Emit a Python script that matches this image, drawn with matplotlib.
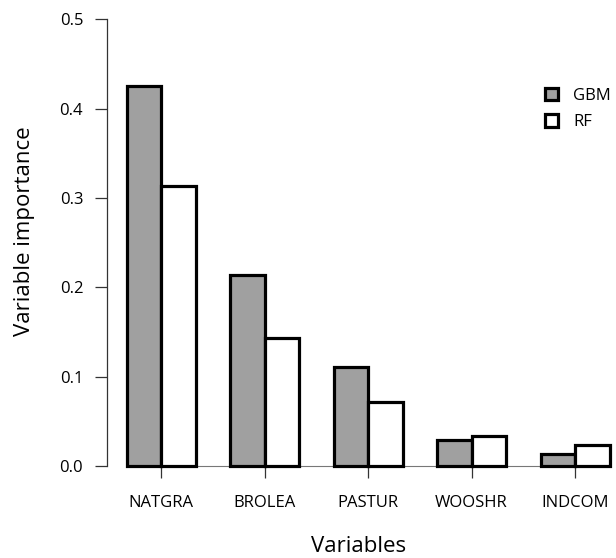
import matplotlib
matplotlib.use("Agg")
import matplotlib.pyplot as plt
from matplotlib.patches import Patch
import numpy as np

categories = ["NATGRA", "BROLEA", "PASTUR", "WOOSHR", "INDCOM"]
gbm = [0.425, 0.214, 0.111, 0.029, 0.014]
rf = [0.313, 0.143, 0.072, 0.034, 0.023]
yticks = [0.0, 0.1, 0.2, 0.3, 0.4, 0.5]
ytick_labels = ["0.0", "0.1", "0.2", "0.3", "0.4", "0.5"]

plt.rcParams['font.family'] = ['Open Sans', 'DejaVu Sans']

W, H = 616, 558
fig = plt.figure(figsize=(W / 100, H / 100), dpi=100)

# axes placement in pixels
x0_px, x1_px = 107.3, 616
y_bot_px, y_top_px = 483.9, 1.4
ax = fig.add_axes([x0_px / W, (H - y_bot_px) / H, (x1_px - x0_px) / W, (y_bot_px - y_top_px) / H])

n = len(categories)
gbm_left = 1 + 3 * np.arange(n)
centers = gbm_left + 1
ax.bar(gbm_left, gbm, width=1, align='edge', color='#a0a0a0', edgecolor='black', linewidth=2.3, clip_on=False, zorder=3)
ax.bar(gbm_left + 1, rf, width=1, align='edge', color='white', edgecolor='black', linewidth=2.3, clip_on=False, zorder=3)

ax.set_xlim(0.443, 0.443 + (x1_px - x0_px) / 34.5)
ax.set_ylim(-0.02, 0.52)

for s in ['top', 'right']:
    ax.spines[s].set_visible(False)
ax.spines['left'].set_bounds(0, 0.5)
ax.spines['left'].set_color('#333333')
ax.spines['left'].set_linewidth(0.9)
ax.spines['bottom'].set_position(('data', 0))
ax.spines['bottom'].set_bounds(1, 15)
ax.spines['bottom'].set_color('#777777')
ax.spines['bottom'].set_linewidth(0.8)

ax.set_yticks(yticks)
ax.set_yticklabels(ytick_labels)
ax.set_xticks(centers)
ax.set_xticklabels(categories)
ax.tick_params(axis='y', length=8.4, width=0.9, color='#333333', pad=9, labelsize=12)
ax.tick_params(axis='x', length=8.6, width=0.9, color='#333333', pad=12, labelsize=12)

fig.text(25 / W, 1 - 231 / H, "Variable importance", rotation=90, ha='center', va='center', fontsize=16)
fig.text((x0_px + 610) / 2 / W - 0.0, 1 - 547 / H, "Variables", ha='center', va='center', fontsize=16)

handles = [Patch(facecolor='#a0a0a0', edgecolor='black', linewidth=2.3),
           Patch(facecolor='white', edgecolor='black', linewidth=2.3)]
leg = fig.legend(handles, ["GBM", "RF"], loc='upper left', bbox_to_anchor=(545 / W, 1 - 88 / H),
                 frameon=False, fontsize=12, handlelength=0.75, handleheight=0.75,
                 handletextpad=0.95, labelspacing=0.62, borderpad=0, borderaxespad=0)

fig.savefig("out.png", dpi=100)
